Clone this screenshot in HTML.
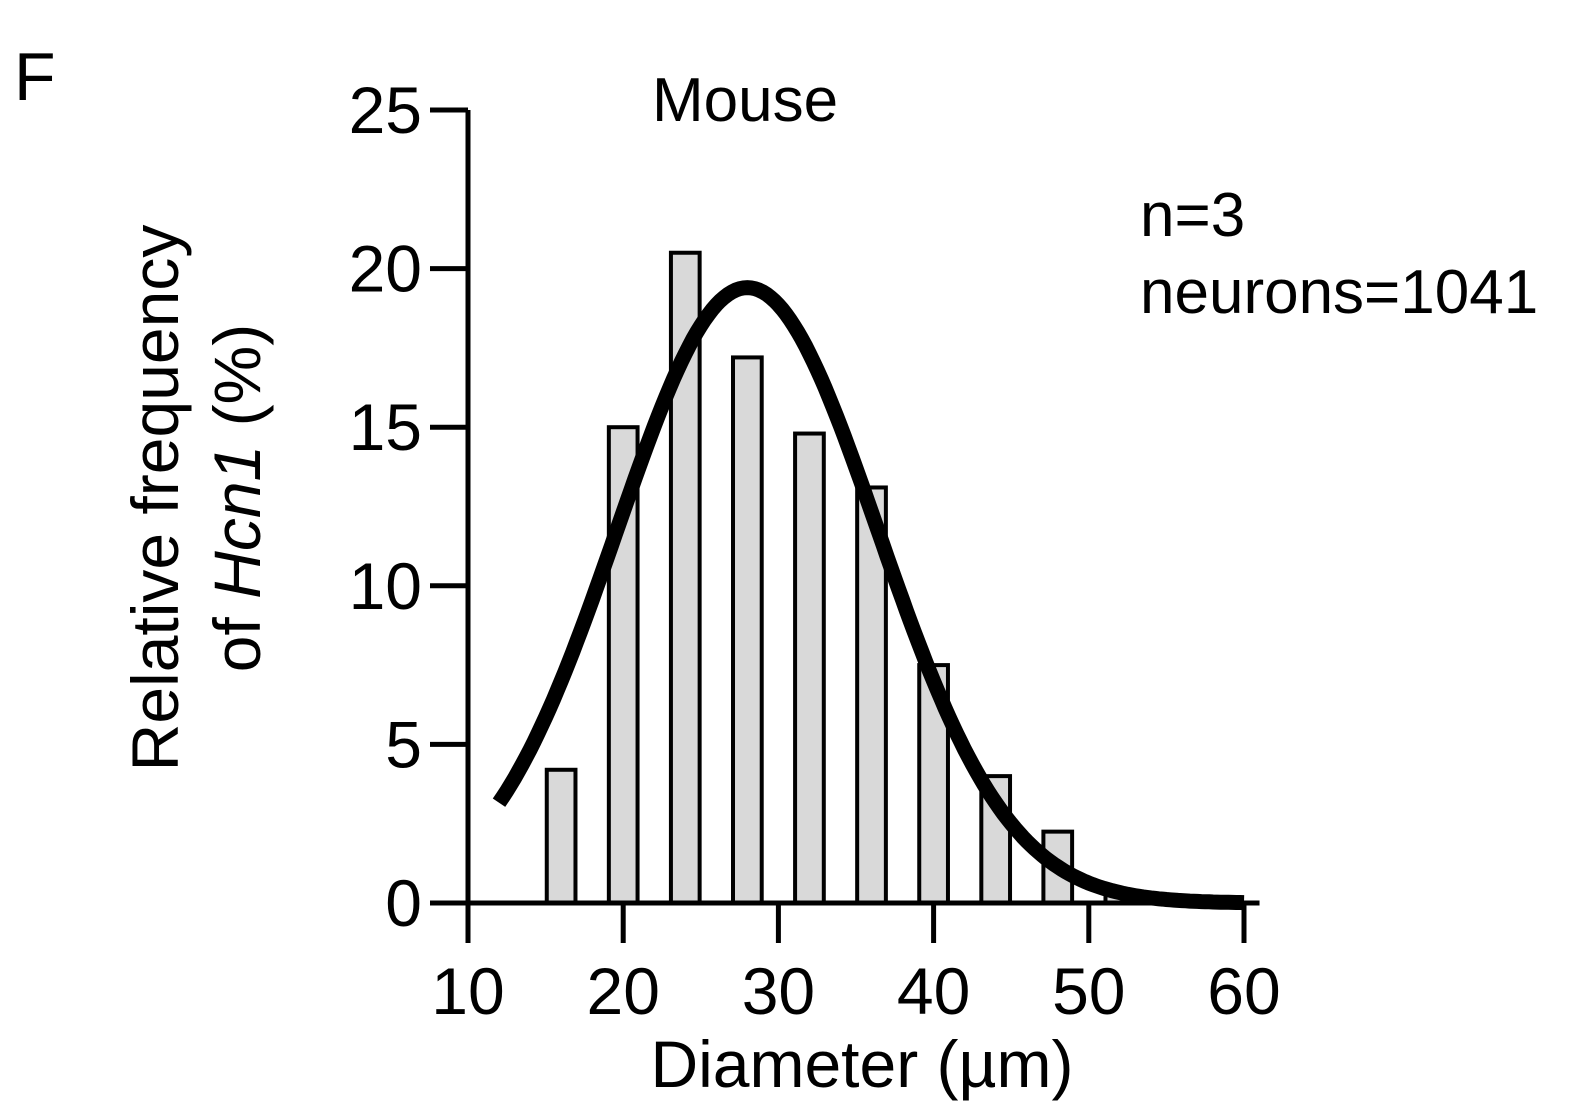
<!DOCTYPE html>
<html><head><meta charset="utf-8"><style>
body{margin:0;background:#fff;}
svg{display:block;font-family:"Liberation Sans",Arial,sans-serif;}
</style></head><body>
<svg id="chart" width="1574" height="1114" viewBox="0 0 1574 1114">
<text x="14" y="100" font-size="68">F</text>
<text x="745" y="121" font-size="62" text-anchor="middle">Mouse</text>
<text x="1140" y="236" font-size="62">n=3</text>
<text x="1140" y="313" font-size="62">neurons=1041</text>
<g transform="translate(178,498) rotate(-90)">
<text x="0" y="0" font-size="66" text-anchor="middle">Relative frequency</text>
<text x="0" y="82" font-size="66" text-anchor="middle">of <tspan font-style="italic">Hcn1</tspan>  (%)</text>
</g>
<text x="862" y="1087" font-size="66" text-anchor="middle">Diameter (µm)</text>
<g id="bars"></g><g id="axes"></g><g id="curve"></g>
</svg>
<script>
const binCenters=[16,20,24,28,32,36,40,44,48,52];
const frequencies=[4.2,15.0,20.5,17.2,14.8,13.1,7.5,4.0,2.25,0.3];
const xTicks=[10,20,30,40,50,60];
const yTicks=[0,5,10,15,20,25];
const fitAmplitude=[19.4];
const fitMean=[28];
const fitSigma=[8.4];
const fitRange=[12,60];
const ns="http://www.w3.org/2000/svg";
const X=v=>468+(v-10)*15.52;
const Y=v=>903-v*31.72;
function mk(tag,attrs,parent){const e=document.createElementNS(ns,tag);for(const k in attrs)e.setAttribute(k,attrs[k]);document.getElementById(parent).appendChild(e);return e;}
binCenters.forEach((c,i)=>{
 const w=1.85*15.52;
 const r=mk('rect',{x:X(c)-w/2,y:Y(frequencies[i]),width:w,height:Y(0)-Y(frequencies[i]),fill:'#d9d9d9',stroke:'#000','stroke-width':4},'bars');
 
 
});
let l=mk('line',{x1:X(10),y1:Y(0),x2:X(61),y2:Y(0),stroke:'#000','stroke-width':5},'axes');


l=mk('line',{x1:X(10),y1:Y(0)+2,x2:X(10),y2:Y(25),stroke:'#000','stroke-width':5},'axes');


xTicks.forEach(t=>{
 const k=mk('line',{x1:X(t),y1:Y(0),x2:X(t),y2:Y(0)+40,stroke:'#000','stroke-width':5},'axes');
 
 
 const tx=mk('text',{x:X(t),y:1014,'font-size':66,'text-anchor':'middle'},'axes');
 tx.textContent=t;
 
 
});
yTicks.forEach(t=>{
 const k=mk('line',{x1:X(10)-38,y1:Y(t),x2:X(10),y2:Y(t),stroke:'#000','stroke-width':5},'axes');
 
 
 const tx=mk('text',{x:X(10)-46,y:Y(t)+23,'font-size':66,'text-anchor':'end'},'axes');
 tx.textContent=t;
 
 
});
let d='';
for(let x=fitRange[0];x<=fitRange[1];x+=0.25){
 const y=fitAmplitude[0]*Math.exp(-Math.pow(x-fitMean[0],2)/(2*fitSigma[0]*fitSigma[0]));
 d+=(d?'L':'M')+X(x).toFixed(1)+','+Y(y).toFixed(1);
}
const p=mk('path',{d:d,fill:'none',stroke:'#000','stroke-width':15,'stroke-linecap':'butt'},'curve');


</script>
</body></html>
